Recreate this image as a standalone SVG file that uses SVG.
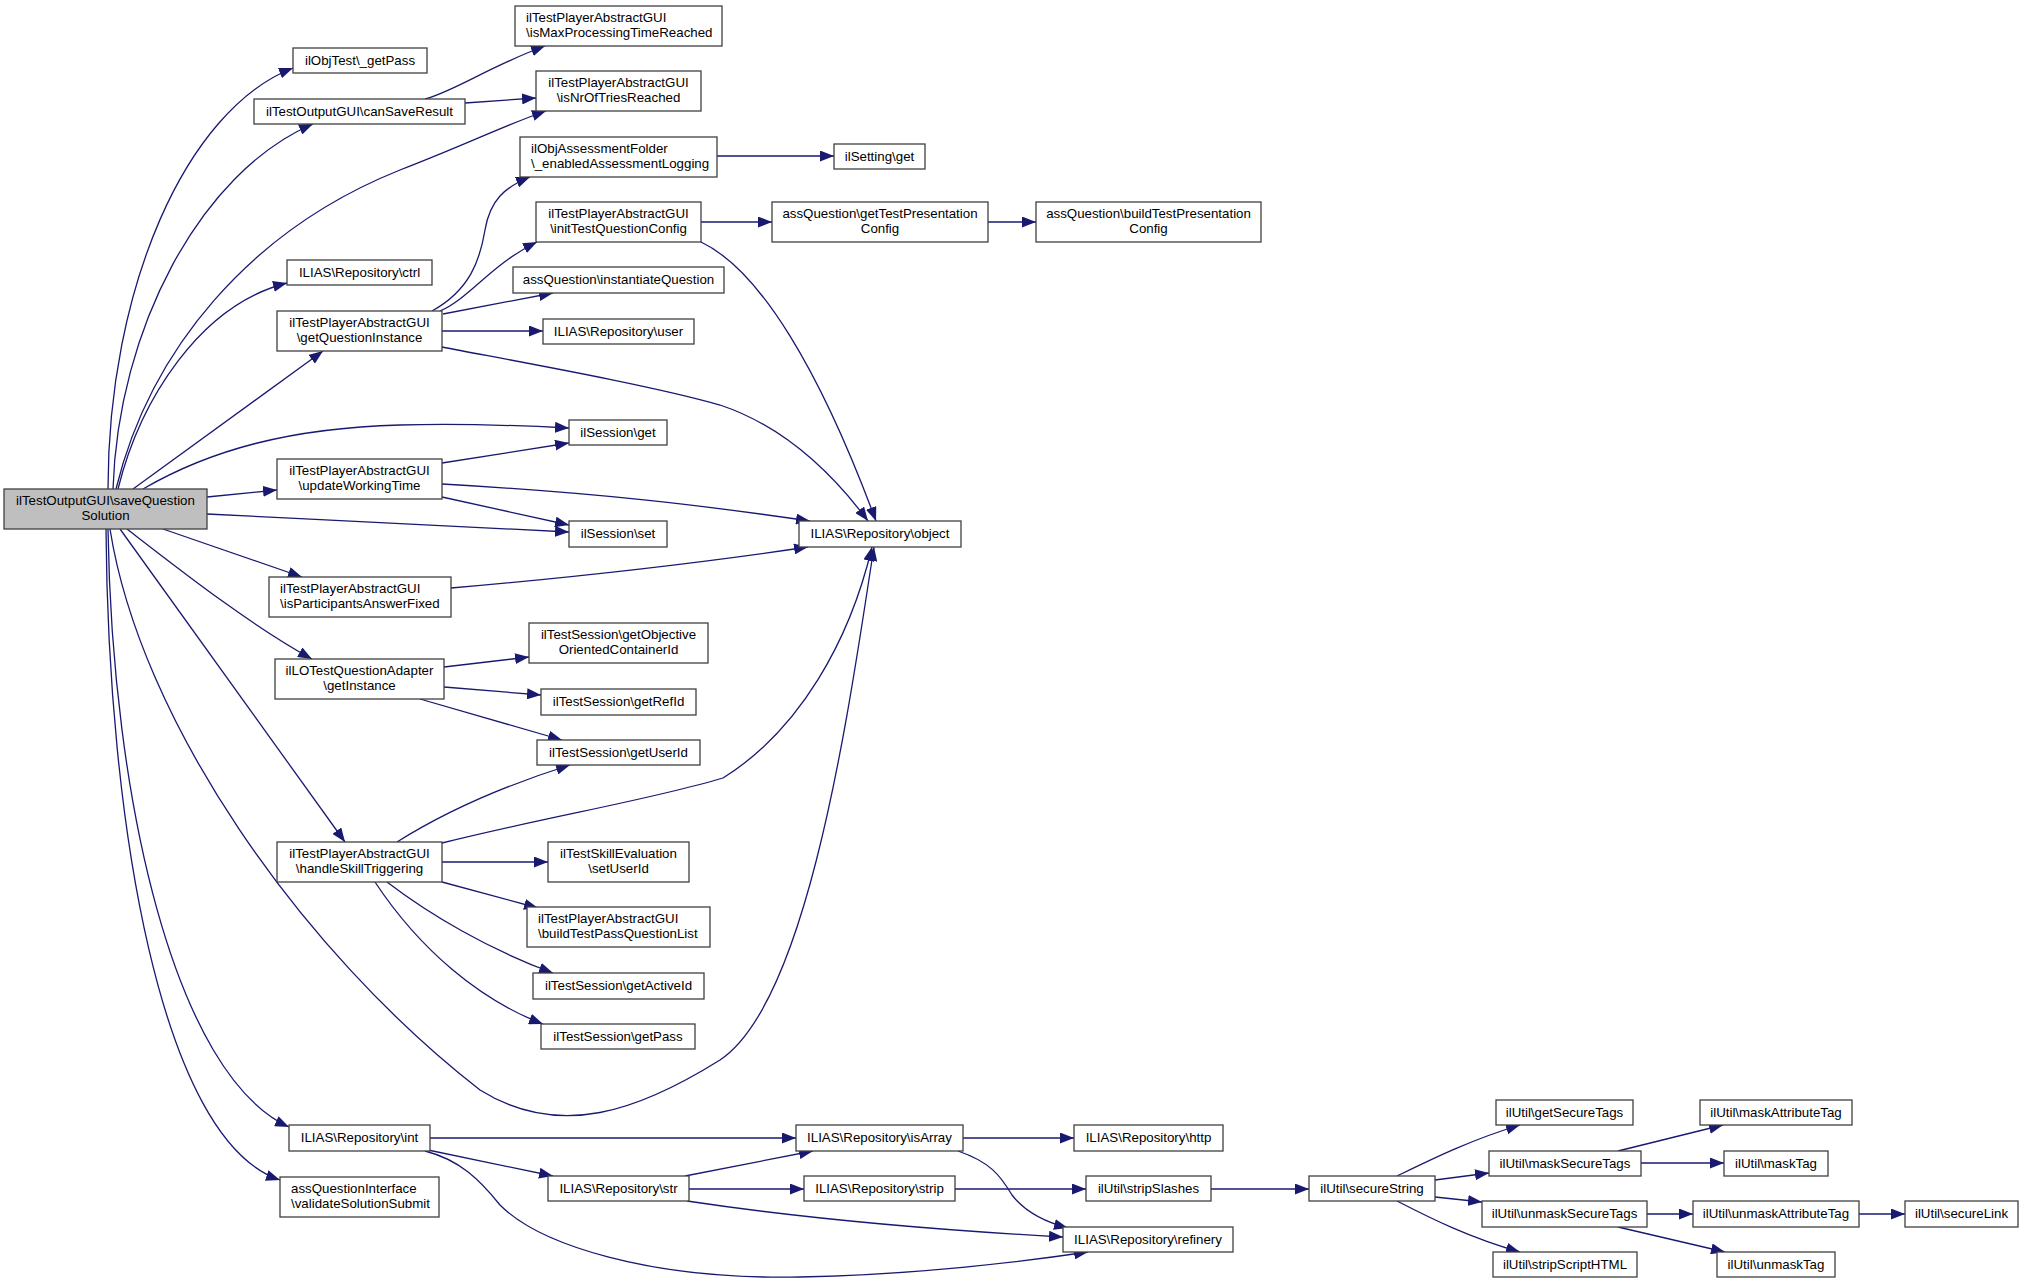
<svg xmlns="http://www.w3.org/2000/svg" width="2036" height="1283" viewBox="0 0 2036 1283">
<defs>
<style>
.n rect{fill:#ffffff;stroke:#404040;stroke-width:1.3}
.root rect{fill:#bfbfbf}
text{font-family:"Liberation Sans",Arial,Helvetica,sans-serif;font-size:13.3px;fill:#000000}
.c text{text-anchor:middle}
.l text{text-anchor:start}
#edges path{fill:none;stroke:#191970;stroke-width:1.3;marker-end:url(#ah)}
</style>
<marker id="ah" markerUnits="userSpaceOnUse" markerWidth="14" markerHeight="11" refX="14" refY="5.5" orient="auto">
<path d="M0,0 L14,5.5 L0,11 z" fill="#191970"/>
</marker>
</defs>
<rect x="0" y="0" width="2036" height="1283" fill="#ffffff"/>

<g id="edges">
<!-- from root -->
<path d="M108,489 C108,290 185,110 293,68"/>
<path d="M113,489 C118,330 200,172 313,124"/>
<path d="M116,489 C150,350 250,230 400,170 C470,143 505,125 546,111"/>
<path d="M118,489 C140,400 200,305 287,283"/>
<path d="M133,489 L323,351"/>
<path d="M143,489 C210,450 290,428 400,425 C470,423 530,426 569,428"/>
<path d="M207,497 L277,490"/>
<path d="M207,514 C330,520 460,527 569,532"/>
<path d="M163,529 L302,577"/>
<path d="M127,529 C180,570 250,625 312,659"/>
<path d="M120,529 L345,842"/>
<path d="M110,529 C140,720 300,950 480,1090 C560,1140 640,1110 720,1060 C810,1000 850,700 874,547"/>
<path d="M108,529 C112,800 175,1075 289,1127"/>
<path d="M106,529 C108,820 160,1140 280,1180"/>
<!-- canSaveResult -->
<path d="M425,99 C455,91 490,66 545,46"/>
<path d="M465,103 L536,98"/>
<!-- getQuestionInstance -->
<path d="M432,311 C470,290 480,260 485,230 C490,200 505,187 530,177"/>
<path d="M440,311 C470,298 490,265 537,242"/>
<path d="M443,314 L553,293"/>
<path d="M442,331 L543,331"/>
<path d="M442,347 C520,362 650,385 720,405 C780,425 830,470 868,521"/>
<!-- enabledAssessmentLogging / initTQC / getTPC -->
<path d="M717,156 L834,156"/>
<path d="M701,242 C760,270 820,370 876,521"/>
<path d="M701,222 L772,222"/>
<path d="M988,222 L1036,222"/>
<!-- updateWorkingTime -->
<path d="M442,463 L569,443"/>
<path d="M442,484 C600,493 700,505 810,521"/>
<path d="M442,497 L569,525"/>
<!-- isParticipantsAnswerFixed -->
<path d="M451,588 C600,575 720,560 808,547"/>
<!-- getInstance -->
<path d="M444,667 L529,657"/>
<path d="M444,687 L541,695"/>
<path d="M420,699 L562,740"/>
<!-- handleSkillTriggering -->
<path d="M397,842 C440,815 500,787 570,765"/>
<path d="M442,843 C550,816 650,800 723,778 C800,730 850,640 872,547"/>
<path d="M442,862 L548,862"/>
<path d="M442,882 L538,908"/>
<path d="M387,882 C430,915 490,950 553,973"/>
<path d="M375,882 C420,950 480,1000 543,1024"/>
<!-- int -->
<path d="M430,1138 L796,1138"/>
<path d="M428,1150 L553,1176"/>
<path d="M425,1151 C460,1160 480,1180 500,1205 C540,1245 650,1280 800,1277 C900,1275 1000,1265 1088,1252"/>
<!-- str -->
<path d="M685,1176 L813,1151"/>
<path d="M689,1189 L804,1189"/>
<path d="M687,1201 C780,1215 900,1228 1063,1237"/>
<!-- isArray -->
<path d="M963,1138 L1074,1138"/>
<path d="M958,1151 C990,1162 1000,1175 1012,1195 C1025,1212 1045,1222 1068,1228"/>
<!-- strip chain -->
<path d="M955,1189 L1086,1189"/>
<path d="M1211,1189 L1309,1189"/>
<!-- secureString -->
<path d="M1397,1176 C1430,1160 1470,1140 1520,1125"/>
<path d="M1435,1180 L1489,1173"/>
<path d="M1435,1197 L1482,1202"/>
<path d="M1397,1201 C1430,1218 1470,1238 1520,1252"/>
<!-- mask / unmask -->
<path d="M1618,1151 L1723,1125"/>
<path d="M1641,1163 L1724,1163"/>
<path d="M1647,1214 L1693,1214"/>
<path d="M1618,1227 L1725,1252"/>
<path d="M1859,1214 L1905,1214"/>
</g>

<g id="root" class="n root c"><rect x="4" y="489" width="203" height="40"/><text x="105.5" y="505">ilTestOutputGUI\saveQuestion</text><text x="105.5" y="519.5">Solution</text></g>
<g id="n_objtest_getpass" class="n c"><rect x="293" y="48" width="134" height="25"/><text x="360" y="65">ilObjTest\_getPass</text></g>
<g id="n_cansaveresult" class="n c"><rect x="254" y="99" width="211" height="25"/><text x="359.5" y="116">ilTestOutputGUI\canSaveResult</text></g>
<g id="n_ismaxproc" class="n l"><rect x="515" y="6" width="207" height="40"/><text x="526" y="22">ilTestPlayerAbstractGUI</text><text x="526" y="37">\isMaxProcessingTimeReached</text></g>
<g id="n_isnroftries" class="n c"><rect x="536" y="71" width="165" height="40"/><text x="618.5" y="87">ilTestPlayerAbstractGUI</text><text x="618.5" y="102">\isNrOfTriesReached</text></g>
<g id="n_enabledlog" class="n l"><rect x="520" y="137" width="197" height="40"/><text x="531" y="153">ilObjAssessmentFolder</text><text x="531" y="168">\_enabledAssessmentLogging</text></g>
<g id="n_settingget" class="n c"><rect x="834" y="144" width="91" height="25"/><text x="879.5" y="161">ilSetting\get</text></g>
<g id="n_inittqc" class="n c"><rect x="536" y="202" width="165" height="40"/><text x="618.5" y="218">ilTestPlayerAbstractGUI</text><text x="618.5" y="233">\initTestQuestionConfig</text></g>
<g id="n_gettpc" class="n c"><rect x="772" y="202" width="216" height="40"/><text x="880" y="218">assQuestion\getTestPresentation</text><text x="880" y="233">Config</text></g>
<g id="n_buildtpc" class="n c"><rect x="1036" y="202" width="225" height="40"/><text x="1148.5" y="218">assQuestion\buildTestPresentation</text><text x="1148.5" y="233">Config</text></g>
<g id="n_instantiate" class="n c"><rect x="513" y="267" width="211" height="26"/><text x="618.5" y="284">assQuestion\instantiateQuestion</text></g>
<g id="n_user" class="n c"><rect x="543" y="319" width="151" height="25"/><text x="618.5" y="336">ILIAS\Repository\user</text></g>
<g id="n_ctrl" class="n c"><rect x="287" y="260" width="145" height="25"/><text x="359.5" y="277">ILIAS\Repository\ctrl</text></g>
<g id="n_getqi" class="n c"><rect x="277" y="311" width="165" height="40"/><text x="359.5" y="327">ilTestPlayerAbstractGUI</text><text x="359.5" y="342">\getQuestionInstance</text></g>
<g id="n_sessget" class="n c"><rect x="569" y="420" width="98" height="25"/><text x="618" y="437">ilSession\get</text></g>
<g id="n_updwt" class="n c"><rect x="277" y="459" width="165" height="40"/><text x="359.5" y="475">ilTestPlayerAbstractGUI</text><text x="359.5" y="490">\updateWorkingTime</text></g>
<g id="n_sessset" class="n c"><rect x="569" y="521" width="98" height="26"/><text x="618" y="538">ilSession\set</text></g>
<g id="n_object" class="n c"><rect x="799" y="521" width="162" height="26"/><text x="880" y="538">ILIAS\Repository\object</text></g>
<g id="n_ispaf" class="n l"><rect x="269" y="577" width="182" height="40"/><text x="280" y="593">ilTestPlayerAbstractGUI</text><text x="280" y="608">\isParticipantsAnswerFixed</text></g>
<g id="n_lo_getinstance" class="n c"><rect x="275" y="659" width="169" height="40"/><text x="359.5" y="675">ilLOTestQuestionAdapter</text><text x="359.5" y="690">\getInstance</text></g>
<g id="n_objective" class="n c"><rect x="529" y="623" width="179" height="40"/><text x="618.5" y="639">ilTestSession\getObjective</text><text x="618.5" y="654">OrientedContainerId</text></g>
<g id="n_getrefid" class="n c"><rect x="541" y="689" width="155" height="26"/><text x="618.5" y="706">ilTestSession\getRefId</text></g>
<g id="n_getuserid" class="n c"><rect x="537" y="740" width="163" height="25"/><text x="618.5" y="757">ilTestSession\getUserId</text></g>
<g id="n_handleskill" class="n c"><rect x="277" y="842" width="165" height="40"/><text x="359.5" y="858">ilTestPlayerAbstractGUI</text><text x="359.5" y="873">\handleSkillTriggering</text></g>
<g id="n_setuserid" class="n c"><rect x="548" y="842" width="141" height="40"/><text x="618.5" y="858">ilTestSkillEvaluation</text><text x="618.5" y="873">\setUserId</text></g>
<g id="n_buildtpql" class="n l"><rect x="527" y="907" width="183" height="40"/><text x="538" y="923">ilTestPlayerAbstractGUI</text><text x="538" y="938">\buildTestPassQuestionList</text></g>
<g id="n_getactiveid" class="n c"><rect x="533" y="973" width="171" height="26"/><text x="618.5" y="990">ilTestSession\getActiveId</text></g>
<g id="n_sess_getpass" class="n c"><rect x="541" y="1024" width="154" height="25"/><text x="618" y="1041">ilTestSession\getPass</text></g>
<g id="n_int" class="n c"><rect x="289" y="1125" width="141" height="26"/><text x="359.5" y="1142">ILIAS\Repository\int</text></g>
<g id="n_validate" class="n l"><rect x="280" y="1177" width="159" height="40"/><text x="291" y="1193">assQuestionInterface</text><text x="291" y="1208">\validateSolutionSubmit</text></g>
<g id="n_isarray" class="n c"><rect x="796" y="1125" width="167" height="26"/><text x="879.5" y="1142">ILIAS\Repository\isArray</text></g>
<g id="n_str" class="n c"><rect x="548" y="1176" width="141" height="25"/><text x="618.5" y="1193">ILIAS\Repository\str</text></g>
<g id="n_strip" class="n c"><rect x="804" y="1176" width="151" height="25"/><text x="879.5" y="1193">ILIAS\Repository\strip</text></g>
<g id="n_http" class="n c"><rect x="1074" y="1125" width="149" height="26"/><text x="1148.5" y="1142">ILIAS\Repository\http</text></g>
<g id="n_stripslashes" class="n c"><rect x="1086" y="1176" width="125" height="25"/><text x="1148.5" y="1193">ilUtil\stripSlashes</text></g>
<g id="n_refinery" class="n c"><rect x="1063" y="1227" width="170" height="25"/><text x="1148" y="1244">ILIAS\Repository\refinery</text></g>
<g id="n_securestring" class="n c"><rect x="1309" y="1176" width="126" height="25"/><text x="1372" y="1193">ilUtil\secureString</text></g>
<g id="n_getsecuretags" class="n c"><rect x="1496" y="1100" width="137" height="25"/><text x="1564.5" y="1117">ilUtil\getSecureTags</text></g>
<g id="n_masksecuretags" class="n c"><rect x="1489" y="1151" width="152" height="25"/><text x="1565" y="1168">ilUtil\maskSecureTags</text></g>
<g id="n_unmasksecuretags" class="n c"><rect x="1482" y="1201" width="165" height="26"/><text x="1564.5" y="1218">ilUtil\unmaskSecureTags</text></g>
<g id="n_stripscripthtml" class="n c"><rect x="1493" y="1252" width="144" height="25"/><text x="1565" y="1269">ilUtil\stripScriptHTML</text></g>
<g id="n_maskattributetag" class="n c"><rect x="1700" y="1100" width="152" height="25"/><text x="1776" y="1117">ilUtil\maskAttributeTag</text></g>
<g id="n_masktag" class="n c"><rect x="1724" y="1151" width="104" height="25"/><text x="1776" y="1168">ilUtil\maskTag</text></g>
<g id="n_unmaskattributetag" class="n c"><rect x="1693" y="1201" width="166" height="26"/><text x="1776" y="1218">ilUtil\unmaskAttributeTag</text></g>
<g id="n_securelink" class="n c"><rect x="1905" y="1201" width="113" height="26"/><text x="1961.5" y="1218">ilUtil\secureLink</text></g>
<g id="n_unmasktag" class="n c"><rect x="1717" y="1252" width="118" height="25"/><text x="1776" y="1269">ilUtil\unmaskTag</text></g>
</svg>
